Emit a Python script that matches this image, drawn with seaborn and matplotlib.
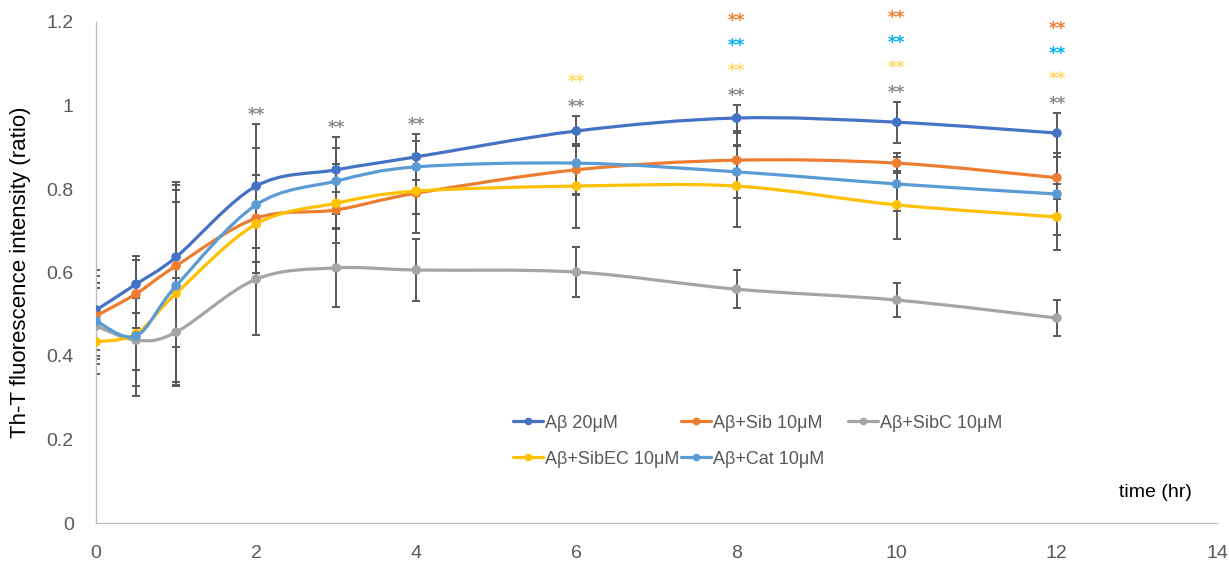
import numpy as np
import pandas as pd
import matplotlib
matplotlib.use("Agg")
import matplotlib.pyplot as plt
from matplotlib.path import Path
from matplotlib.patches import PathPatch
from matplotlib.lines import Line2D
import seaborn as sns

# Time points (hr)
time_hr = [0, 0.5, 1, 2, 3, 4, 6, 8, 10, 12]

# Mean Th-T fluorescence ratio per group
ab20 = [0.510, 0.572, 0.637, 0.807, 0.846, 0.877, 0.939, 0.970, 0.960, 0.934]
ab_sib = [0.496, 0.549, 0.616, 0.730, 0.750, 0.790, 0.846, 0.869, 0.862, 0.827]
ab_sibc = [0.472, 0.438, 0.457, 0.584, 0.611, 0.606, 0.601, 0.560, 0.534, 0.491]
ab_sibec = [0.434, 0.453, 0.550, 0.716, 0.766, 0.795, 0.807, 0.807, 0.762, 0.733]
ab_cat = [0.484, 0.448, 0.568, 0.762, 0.819, 0.853, 0.862, 0.841, 0.812, 0.788]

# Standard deviations
ab20_sd = [0.096, 0.068, 0.180, 0.149, 0.079, 0.055, 0.036, 0.031, 0.049, 0.048]
ab_sib_sd = [0.096, 0.081, 0.194, 0.104, 0.043, 0.095, 0.060, 0.065, 0.024, 0.050]
ab_sibc_sd = [0.091, 0.134, 0.130, 0.134, 0.094, 0.074, 0.060, 0.045, 0.041, 0.043]
ab_sibec_sd = [0.077, 0.087, 0.220, 0.118, 0.095, 0.055, 0.100, 0.098, 0.082, 0.080]
ab_cat_sd = [0.091, 0.120, 0.230, 0.136, 0.079, 0.062, 0.075, 0.062, 0.064, 0.098]

group_labels = ["Aβ 20μM", "Aβ+Sib 10μM", "Aβ+SibC 10μM", "Aβ+SibEC 10μM", "Aβ+Cat 10μM"]

# Significance (**) against Aβ 20μM, listed bottom to top at each time point
sig_time = [2, 3, 4, 6, 8, 10, 12]
sig_groups = [
    ["SibC"],
    ["SibC"],
    ["SibC"],
    ["SibC", "SibEC"],
    ["SibC", "SibEC", "Cat", "Sib"],
    ["SibC", "SibEC", "Cat", "Sib"],
    ["SibC", "SibEC", "Cat", "Sib"],
]

line_colors = ["#4472C4", "#ED7D31", "#A5A5A5", "#FFC000", "#5B9BD5"]
star_colors = {"SibC": "#8C8C8C", "SibEC": "#FFD966", "Cat": "#00B0F0", "Sib": "#ED7D31"}

means = [ab20, ab_sib, ab_sibc, ab_sibec, ab_cat]
sds = [ab20_sd, ab_sib_sd, ab_sibc_sd, ab_sibec_sd, ab_cat_sd]

sns.set_theme(style="white")
plt.rcParams["font.family"] = ["Liberation Sans", "DejaVu Sans"]

fig = plt.figure(figsize=(12.29, 5.62), dpi=100)
ax = fig.add_axes([96 / 1229, 1 - 523 / 562, (1217 - 96) / 1229, (523 - 22) / 562])

tick_grey = "#595959"


def smooth_path(xs, ys):
    """Cubic Bezier path through the points (Catmull-Rom style control points)."""
    pts = np.column_stack([xs, ys]).astype(float)
    n = len(pts)
    verts = [pts[0]]
    codes = [Path.MOVETO]
    for i in range(n - 1):
        p0 = pts[i - 1] if i > 0 else pts[i]
        p1 = pts[i]
        p2 = pts[i + 1]
        p3 = pts[i + 2] if i + 2 < n else pts[i + 1]
        c1 = p1 + (p2 - p0) / 6.0
        c2 = p2 - (p3 - p1) / 6.0
        verts += [c1, c2, p2]
        codes += [Path.CURVE4] * 3
    return Path(verts, codes)


# Error bars
for m, s in zip(means, sds):
    ax.errorbar(time_hr, m, yerr=s, fmt="none", ecolor=tick_grey, elinewidth=1.4,
                capsize=3, capthick=1.4, zorder=2)

# Smoothed lines
for i, (m, c) in enumerate(zip(means, line_colors)):
    patch = PathPatch(smooth_path(time_hr, m), facecolor="none", edgecolor=c,
                      lw=2.3, zorder=3 + i * 0.1, capstyle="round")
    ax.add_patch(patch)

# Markers
long = pd.DataFrame({
    "time": np.tile(time_hr, len(group_labels)),
    "ratio": np.concatenate(means),
    "group": np.repeat(group_labels, len(time_hr)),
})
for i, (lab, c) in enumerate(zip(group_labels, line_colors)):
    sns.scatterplot(data=long[long["group"] == lab], x="time", y="ratio", color=c,
                    s=48, edgecolor="none", legend=False, ax=ax, zorder=3.05 + i * 0.1)

# Significance stars stacked above the highest error bar
top = np.max(np.array(means) + np.array(sds), axis=0)
for t, groups in zip(sig_time, sig_groups):
    j = time_hr.index(t)
    for level, g in enumerate(groups):
        y = top[j] + 0.032 + 0.06 * level
        ax.annotate("**", xy=(t, y), xytext=(0, -6.8), textcoords="offset points",
                    ha="center", va="baseline", fontsize=12, fontweight="bold",
                    color=star_colors[g], family=["DejaVu Sans"], annotation_clip=False)

ax.set_xlim(0, 14)
ax.set_ylim(0, 1.2)
ax.set_xticks(np.arange(0, 15, 2))
ax.set_yticks(np.arange(0, 1.21, 0.2))
ax.set_yticklabels([f"{v:g}" for v in np.round(np.arange(0, 1.21, 0.2), 1)])
ax.tick_params(axis="both", length=0, pad=16, labelsize=14, labelcolor=tick_grey)

for side in ["top", "right"]:
    ax.spines[side].set_visible(False)
for side in ["left", "bottom"]:
    ax.spines[side].set_color("#BFBFBF")
    ax.spines[side].set_linewidth(1.0)

ax.set_xlabel("")
ax.set_ylabel("Th-T fluorescence intensity (ratio)", fontsize=16, color="black")
ax.yaxis.set_label_coords(-0.058, 0.5)

ax.text(13.23, 0.074, "time (hr)", ha="center", va="center", fontsize=14, color="black")

# Legend laid out as a grid of equal-width columns, filled row by row
handles = [Line2D([0], [0], color=c, lw=2.3, marker="o", markersize=4.5) for c in line_colors]
leg_kw = dict(loc="upper left", frameon=False, fontsize=13, labelcolor=tick_grey,
              handlelength=1.65, handletextpad=0.12, columnspacing=0.1,
              labelspacing=1.05, borderpad=0, borderaxespad=0)
order = [0, 3, 1, 4]
leg1 = ax.legend([handles[k] for k in order], [group_labels[k] for k in order], ncol=2,
                 bbox_to_anchor=(0.372, 0.216), **leg_kw)
ax.add_artist(leg1)
ax.legend([handles[2]], [group_labels[2]], ncol=1,
          bbox_to_anchor=(0.6708, 0.216), **leg_kw)

fig.savefig("out.png", dpi=100)
